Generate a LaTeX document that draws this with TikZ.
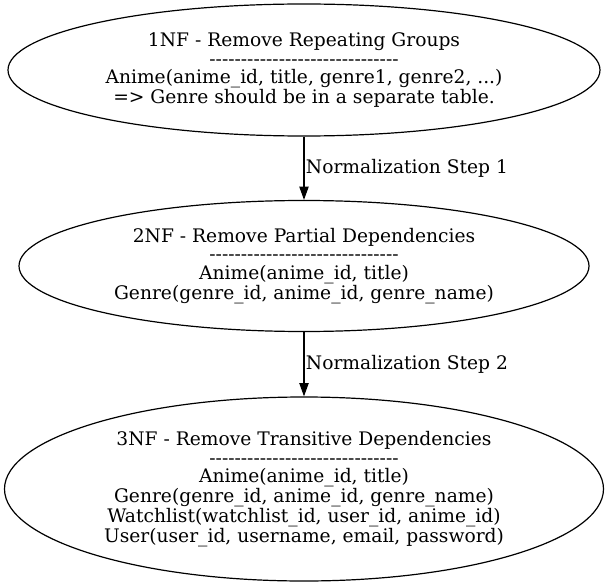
\documentclass[tikz,border=0pt]{standalone}
\usepackage{fontspec}
\setmainfont{DejaVu Serif}[Ligatures=TeXOff]
\usetikzlibrary{arrows.meta,shapes.geometric}

\newcommand{\rulerline}{------------------------------}

\begin{document}
\begin{tikzpicture}[x=0.75pt,y=-0.75pt,line width=0.9pt,
	nfbox/.style={draw,ellipse,inner sep=0pt,align=center,
		font=\fontsize{14}{13.7}\selectfont},
	steplabel/.style={right,inner sep=1pt,font=\fontsize{14}{17}\selectfont},
	normarrow/.style={-{Triangle[length=10pt,width=7pt]}}]
	\useasboundingbox (0,0) rectangle (610,588);

	\node[nfbox,minimum width=444pt,minimum height=99pt] (onenf) at (304,70)
		{1NF - Remove Repeating Groups\\\rulerline\\Anime(anime\_id, title, genre1, genre2, ...)\\=> Genre should be in a separate table.};
	\node[nfbox,minimum width=427.5pt,minimum height=98.25pt] (twonf) at (304,266)
		{2NF - Remove Partial Dependencies\\\rulerline\\Anime(anime\_id, title)\\Genre(genre\_id, anime\_id, genre\_name)};
	\node[nfbox,minimum width=449.25pt,minimum height=138pt] (threenf) at (304,489)
		{3NF - Remove Transitive Dependencies\\\rulerline\\Anime(anime\_id, title)\\Genre(genre\_id, anime\_id, genre\_name)\\Watchlist(watchlist\_id, user\_id, anime\_id)\\User(user\_id, username, email, password)};

	\draw[normarrow] (onenf.south) -- node[steplabel] (stepone) {Normalization Step 1} (twonf.north);
	\draw[normarrow] (twonf.south) -- node[steplabel] (steptwo) {Normalization Step 2} (threenf.north);
\end{tikzpicture}
\end{document}
